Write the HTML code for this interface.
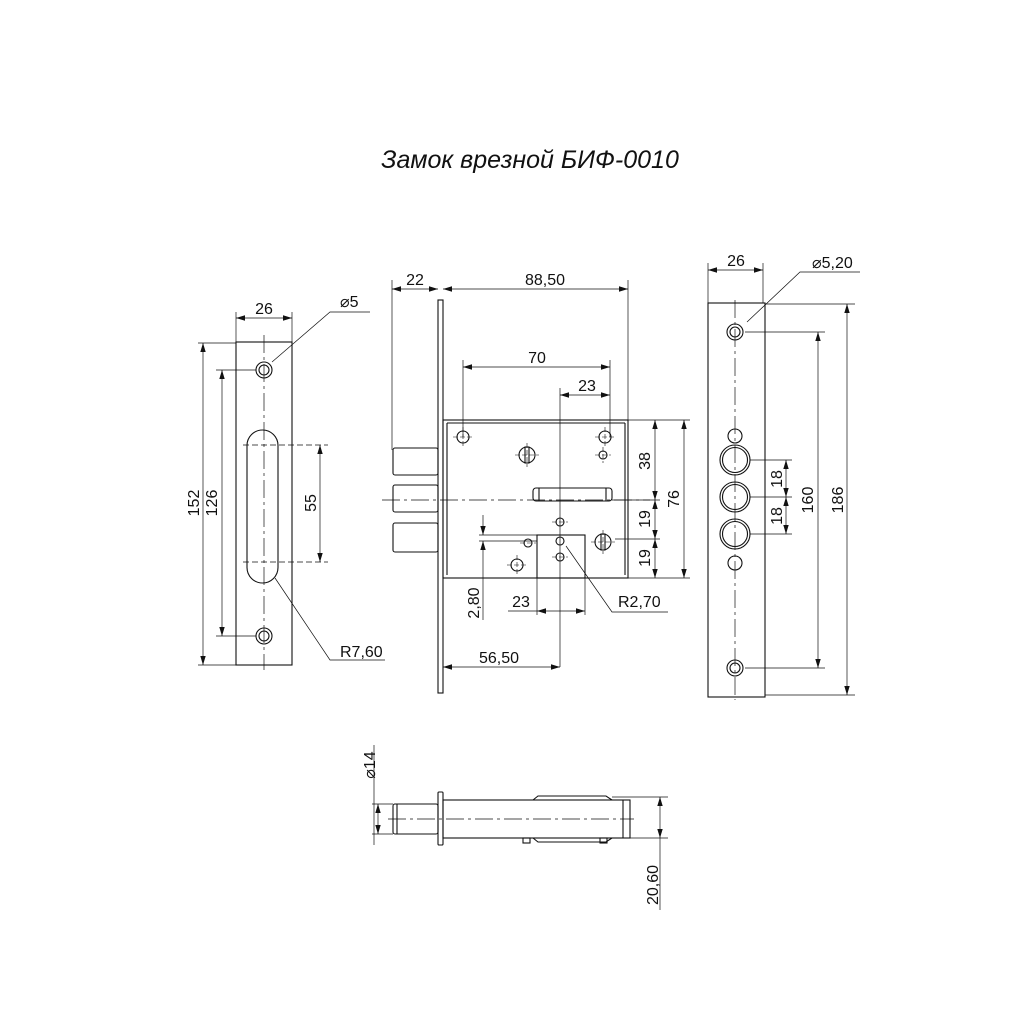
<!DOCTYPE html>
<html><head><meta charset="utf-8"><style>
html,body{margin:0;padding:0;background:#fff}
svg{display:block}
text{font-family:"Liberation Sans",sans-serif;font-size:16px;fill:#111}
</style></head><body>
<svg width="1025" height="1025" viewBox="0 0 1025 1025" xmlns="http://www.w3.org/2000/svg">
<defs>
<marker id="a" viewBox="0 0 10 10" refX="10" refY="5" markerWidth="9" markerHeight="9" orient="auto-start-reverse" markerUnits="userSpaceOnUse"><path d="M0,2 L10,5 L0,8z" fill="#111"/></marker>
</defs>
<text x="530" y="168" text-anchor="middle" style="font-size:25px;font-style:italic">Замок врезной БИФ-0010</text>
<g fill="none" stroke="#111" stroke-width="1.1">
<rect x="236" y="342" width="56" height="323"/>
<circle cx="264" cy="370" r="8"/><circle cx="264" cy="370" r="5"/>
<circle cx="264" cy="636" r="8"/><circle cx="264" cy="636" r="5"/>
<rect x="247" y="430" width="31" height="153" rx="15.5"/>
<line x1="264" y1="335" x2="264" y2="670" stroke-dasharray="18,4,3,4" stroke-width="0.7"/>
<line x1="243" y1="445" x2="328" y2="445" stroke-dasharray="6,3" stroke-width="0.7"/>
<line x1="243" y1="562" x2="328" y2="562" stroke-dasharray="6,3" stroke-width="0.7"/>
<line x1="236" y1="312" x2="236" y2="342" stroke-width="0.7"/><line x1="292" y1="312" x2="292" y2="342" stroke-width="0.7"/>
<line x1="236" y1="318" x2="292" y2="318" marker-start="url(#a)" marker-end="url(#a)" stroke-width="0.7"/>
<line x1="198" y1="343" x2="236" y2="343" stroke-width="0.7"/><line x1="198" y1="665" x2="236" y2="665" stroke-width="0.7"/>
<line x1="203" y1="343" x2="203" y2="665" marker-start="url(#a)" marker-end="url(#a)" stroke-width="0.7"/>
<line x1="216" y1="370" x2="256" y2="370" stroke-width="0.7"/><line x1="216" y1="636" x2="256" y2="636" stroke-width="0.7"/>
<line x1="222" y1="370" x2="222" y2="636" marker-start="url(#a)" marker-end="url(#a)" stroke-width="0.7"/>
<line x1="320" y1="445" x2="320" y2="562" marker-start="url(#a)" marker-end="url(#a)" stroke-width="0.7"/>
<polyline points="272,362 330,312 370,312" stroke-width="0.7"/>
<polyline points="275,578 330,660 385,660" stroke-width="0.7"/>
<rect x="438" y="300" width="5" height="393"/>
<rect x="443" y="420" width="185" height="158"/>
<line x1="447" y1="423" x2="447" y2="575"/>
<line x1="447" y1="423" x2="625" y2="423"/><line x1="625" y1="423" x2="625" y2="575"/>
<rect x="393" y="448" width="45" height="27" rx="2"/>
<rect x="393" y="485" width="45" height="27" rx="2"/>
<rect x="393" y="523" width="45" height="29" rx="2"/>
<rect x="533" y="488" width="79" height="13" rx="3"/>
<line x1="539" y1="488" x2="539" y2="501"/><line x1="606" y1="488" x2="606" y2="501"/>
<rect x="537" y="535" width="48" height="43"/>
<line x1="382" y1="500" x2="650" y2="500" stroke-dasharray="18,4,3,4" stroke-width="0.7"/>
<circle cx="463" cy="437" r="6"/><circle cx="605" cy="437" r="6"/>
<circle cx="527" cy="455" r="8"/><rect x="525" y="447" width="4" height="16"/>
<circle cx="603" cy="455" r="4"/>
<circle cx="560" cy="522" r="4"/><circle cx="528" cy="543" r="4"/>
<circle cx="603" cy="542" r="8"/><rect x="601" y="534" width="4" height="16"/>
<circle cx="517" cy="565" r="6"/><circle cx="560" cy="557" r="4"/>
<circle cx="560" cy="541" r="4"/>
<g stroke-width="0.6" stroke-dasharray="5,2">
<line x1="453" y1="437" x2="473" y2="437"/><line x1="463" y1="427" x2="463" y2="447"/>
<line x1="595" y1="437" x2="615" y2="437"/><line x1="605" y1="427" x2="605" y2="447"/>
<line x1="515" y1="455" x2="539" y2="455"/><line x1="527" y1="443" x2="527" y2="467"/>
<line x1="595" y1="455" x2="611" y2="455"/><line x1="603" y1="447" x2="603" y2="463"/>
<line x1="552" y1="522" x2="568" y2="522"/>
<line x1="591" y1="542" x2="615" y2="542"/><line x1="603" y1="530" x2="603" y2="554"/>
<line x1="507" y1="565" x2="527" y2="565"/><line x1="517" y1="555" x2="517" y2="575"/>
<line x1="520" y1="543" x2="536" y2="543"/><line x1="552" y1="557" x2="568" y2="557"/>
</g>
<g stroke-width="0.7">
<line x1="392" y1="280" x2="392" y2="450"/><line x1="628" y1="280" x2="628" y2="420"/>
<line x1="392" y1="289" x2="438" y2="289" marker-start="url(#a)" marker-end="url(#a)"/>
<line x1="443" y1="289" x2="628" y2="289" marker-start="url(#a)" marker-end="url(#a)"/>
<line x1="463" y1="360" x2="463" y2="437"/><line x1="610" y1="360" x2="610" y2="437"/>
<line x1="463" y1="367" x2="610" y2="367" marker-start="url(#a)" marker-end="url(#a)"/>
<line x1="560" y1="388" x2="560" y2="667"/>
<line x1="560" y1="395" x2="610" y2="395" marker-start="url(#a)" marker-end="url(#a)"/>
<line x1="628" y1="420" x2="690" y2="420"/><line x1="612" y1="500" x2="660" y2="500"/>
<line x1="615" y1="539" x2="660" y2="539"/><line x1="628" y1="578" x2="690" y2="578"/>
<line x1="655" y1="420" x2="655" y2="500" marker-start="url(#a)" marker-end="url(#a)"/>
<line x1="655" y1="500" x2="655" y2="539" marker-start="url(#a)" marker-end="url(#a)"/>
<line x1="655" y1="539" x2="655" y2="578" marker-start="url(#a)" marker-end="url(#a)"/>
<line x1="684" y1="420" x2="684" y2="578" marker-start="url(#a)" marker-end="url(#a)"/>
<line x1="479" y1="535" x2="537" y2="535"/><line x1="479" y1="541" x2="537" y2="541"/>
<line x1="483" y1="515" x2="483" y2="535" marker-end="url(#a)"/>
<line x1="483" y1="541" x2="483" y2="620" marker-start="url(#a)"/>
<line x1="537" y1="578" x2="537" y2="615"/><line x1="585" y1="578" x2="585" y2="615"/>
<line x1="508" y1="611" x2="537" y2="611"/>
<line x1="537" y1="611" x2="585" y2="611" marker-start="url(#a)" marker-end="url(#a)"/>
<polyline points="566,546 612,612 668,612"/>
<line x1="443" y1="667" x2="560" y2="667" marker-start="url(#a)" marker-end="url(#a)"/>
</g>
<rect x="708" y="303" width="57" height="394"/>
<line x1="735" y1="300" x2="735" y2="700" stroke-dasharray="18,4,3,4" stroke-width="0.7"/>
<circle cx="735" cy="332" r="8"/><circle cx="735" cy="332" r="5"/>
<circle cx="735" cy="668" r="8"/><circle cx="735" cy="668" r="5"/>
<circle cx="735" cy="436" r="7"/><circle cx="735" cy="563" r="7"/>
<circle cx="735" cy="460" r="15"/><circle cx="735" cy="460" r="12.5"/>
<circle cx="735" cy="497" r="15"/><circle cx="735" cy="497" r="12.5"/>
<circle cx="735" cy="534" r="15"/><circle cx="735" cy="534" r="12.5"/>
<g stroke-width="0.7">
<line x1="708" y1="263" x2="708" y2="303"/><line x1="763" y1="263" x2="763" y2="303"/>
<line x1="708" y1="270" x2="763" y2="270" marker-start="url(#a)" marker-end="url(#a)"/>
<polyline points="747,322 800,272 860,272"/>
<line x1="745" y1="332" x2="825" y2="332"/><line x1="745" y1="668" x2="825" y2="668"/>
<line x1="818" y1="332" x2="818" y2="668" marker-start="url(#a)" marker-end="url(#a)"/>
<line x1="765" y1="304" x2="855" y2="304"/><line x1="765" y1="695" x2="855" y2="695"/>
<line x1="847" y1="304" x2="847" y2="695" marker-start="url(#a)" marker-end="url(#a)"/>
<line x1="750" y1="460" x2="792" y2="460"/><line x1="750" y1="497" x2="792" y2="497"/><line x1="750" y1="534" x2="792" y2="534"/>
<line x1="786" y1="460" x2="786" y2="497" marker-start="url(#a)" marker-end="url(#a)"/>
<line x1="786" y1="497" x2="786" y2="534" marker-start="url(#a)" marker-end="url(#a)"/>
</g>
<rect x="393" y="804" width="45" height="30" rx="2"/>
<line x1="397" y1="804" x2="397" y2="834"/>
<rect x="438" y="792" width="5" height="53" rx="1"/>
<rect x="443" y="800" width="187" height="38"/>
<line x1="623" y1="800" x2="623" y2="838"/>
<path d="M533,800 L538,796 L606,796 L612,800"/>
<path d="M533,838 L538,842 L606,842 L612,838"/>
<rect x="523" y="838" width="7" height="5"/><rect x="600" y="838" width="7" height="5"/>
<line x1="388" y1="819" x2="634" y2="819" stroke-dasharray="18,4,3,4" stroke-width="0.7"/>
<g stroke-width="0.7">
<line x1="612" y1="797" x2="668" y2="797"/><line x1="612" y1="838" x2="668" y2="838"/>
<line x1="660" y1="797" x2="660" y2="838" marker-start="url(#a)" marker-end="url(#a)"/>
<line x1="660" y1="838" x2="660" y2="910"/>
<line x1="374" y1="745" x2="374" y2="845"/>
<line x1="372" y1="804" x2="393" y2="804"/><line x1="372" y1="834" x2="393" y2="834"/>
<line x1="378" y1="804" x2="378" y2="834" marker-start="url(#a)" marker-end="url(#a)"/>
</g>
</g>
<text x="264" y="314" text-anchor="middle">26</text>
<text x="340" y="307">⌀5</text>
<text x="340" y="657">R7,60</text>
<text transform="translate(199,503) rotate(-90)" text-anchor="middle">152</text>
<text transform="translate(217,503) rotate(-90)" text-anchor="middle">126</text>
<text transform="translate(316,503) rotate(-90)" text-anchor="middle">55</text>
<text x="415" y="285" text-anchor="middle">22</text>
<text x="545" y="285" text-anchor="middle">88,50</text>
<text x="537" y="363" text-anchor="middle">70</text>
<text x="587" y="391" text-anchor="middle">23</text>
<text transform="translate(650,461) rotate(-90)" text-anchor="middle">38</text>
<text transform="translate(650,519) rotate(-90)" text-anchor="middle">19</text>
<text transform="translate(650,558) rotate(-90)" text-anchor="middle">19</text>
<text transform="translate(679,499) rotate(-90)" text-anchor="middle">76</text>
<text transform="translate(479,603) rotate(-90)" text-anchor="middle">2,80</text>
<text x="521" y="607" text-anchor="middle">23</text>
<text x="618" y="607">R2,70</text>
<text x="499" y="663" text-anchor="middle">56,50</text>
<text x="736" y="266" text-anchor="middle">26</text>
<text x="812" y="268">⌀5,20</text>
<text transform="translate(782,479) rotate(-90)" text-anchor="middle">18</text>
<text transform="translate(782,516) rotate(-90)" text-anchor="middle">18</text>
<text transform="translate(813,500) rotate(-90)" text-anchor="middle">160</text>
<text transform="translate(843,500) rotate(-90)" text-anchor="middle">186</text>
<text transform="translate(375,765) rotate(-90)" text-anchor="middle">⌀14</text>
<text transform="translate(658,885) rotate(-90)" text-anchor="middle">20,60</text>
</svg>
</body></html>
